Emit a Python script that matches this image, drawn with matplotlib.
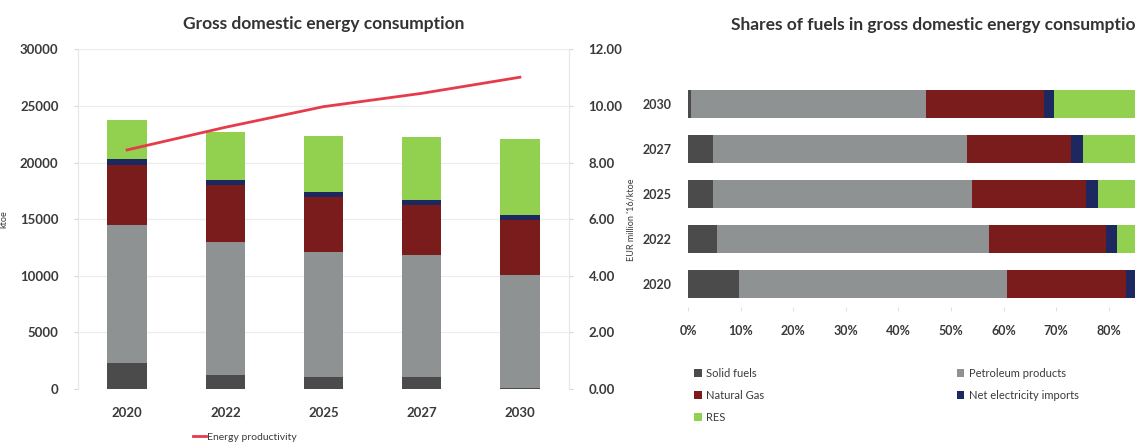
import matplotlib.pyplot as plt
import numpy as np
from matplotlib.patches import Patch
from matplotlib.lines import Line2D

plt.rcParams['font.family'] = ['Lato', 'DejaVu Sans']

# gross domestic energy consumption by fuel, ktoe
years = ['2020', '2022', '2025', '2027', '2030']
solid_fuels = [2300, 1250, 1050, 1050, 120]
petroleum = [12150, 11750, 11050, 10750, 9910]
natural_gas = [5350, 5050, 4850, 4420, 4930]
net_electricity = [500, 450, 500, 500, 450]
res = [3500, 4200, 4950, 5550, 6720]

# EUR million '16 / ktoe
energy_productivity = [8.45, 9.25, 9.98, 10.45, 11.02]

fuel_names = ['Solid fuels', 'Petroleum products', 'Natural Gas',
              'Net electricity imports', 'RES']
fuel_colors = ['#4b4b4b', '#8f9292', '#7b1c1c', '#1d2760', '#92d050']
fuels = [solid_fuels, petroleum, natural_gas, net_electricity, res]

W, H = 1135, 444
fig = plt.figure(figsize=(W / 100, H / 100), dpi=100)
fig.patch.set_facecolor('white')

def rect(x0, x1, y0, y1):
    # pixel box -> figure fraction
    return [x0 / W, 1 - y1 / H, (x1 - x0) / W, (y1 - y0) / H]

txt = '#3a3a3a'

# ---- left: stacked columns + productivity line ----
ax = fig.add_axes(rect(78, 569, 49.5, 389))
x = np.arange(len(years))
bottom = np.zeros(len(years))
for vals, col in zip(fuels, fuel_colors):
    ax.bar(x, vals, 0.4, bottom=bottom, color=col, zorder=2)
    bottom += np.array(vals)

ax.set_xlim(-0.5, 4.5)
ax.set_ylim(0, 30000)
ax.set_yticks(range(0, 30001, 5000))
ax.set_xticks(x)
ax.set_xticklabels(years)
ax.grid(axis='y', color='#ececec', linewidth=0.8, zorder=0)
for s in ['top', 'right', 'bottom']:
    ax.spines[s].set_visible(False)
ax.spines['left'].set_color('#e6e6e6')
ax.tick_params(axis='y', length=3, color='#d8d8d8', pad=11,
               labelsize=9.5, labelcolor=txt)
ax.tick_params(axis='x', length=0, pad=13, labelsize=9.5, labelcolor=txt)
for lbl in ax.get_xticklabels() + ax.get_yticklabels():
    lbl.set_fontweight('bold')
ax.set_ylabel('ktoe', fontsize=6.5, color=txt, labelpad=8)
ax.set_title('Gross domestic energy consumption', fontsize=12.5,
             fontweight='bold', color='#333333', pad=15)

ax2 = ax.twinx()
line, = ax2.plot(x, energy_productivity, color='#e63b4a', linewidth=2,
                 zorder=3)
ax2.set_ylim(0, 12)
ax2.set_yticks(np.arange(0, 12.1, 2))
ax2.set_yticklabels(['%.2f' % v for v in np.arange(0, 12.1, 2)])
for s in ['top', 'left', 'bottom']:
    ax2.spines[s].set_visible(False)
ax2.spines['right'].set_color('#e6e6e6')
ax2.tick_params(axis='y', length=3, color='#d8d8d8', pad=11,
                labelsize=9.5, labelcolor=txt)
for lbl in ax2.get_yticklabels():
    lbl.set_fontweight('bold')
ax2.set_ylabel("EUR million '16/ktoe", fontsize=6.5, color=txt, labelpad=3)

fig.legend(handles=[Line2D([], [], color='#e63b4a', linewidth=2)],
           labels=['Energy productivity'], loc='center',
           bbox_to_anchor=(245 / W, 1 - 437 / H), frameon=False,
           fontsize=7.5, handlelength=1.3, handletextpad=0.1,
           labelcolor=txt)

# ---- right: shares of fuels (panel runs past the right edge) ----
axr = fig.add_axes(rect(688, 1214, 81.5, 306.5))
totals = np.sum(fuels, axis=0)
left = np.zeros(len(years))
for vals, col in zip(fuels, fuel_colors):
    share = np.array(vals) / totals * 100
    axr.barh(x, share, 0.62, left=left, color=col, zorder=2)
    left += share

axr.set_xlim(0, 100)
axr.set_ylim(-0.5, 4.5)
axr.set_yticks(x)
axr.set_yticklabels(years)
pct = range(0, 81, 10)
axr.set_xticks(pct)
axr.set_xticklabels(['%d%%' % v for v in pct])
for s in axr.spines.values():
    s.set_visible(False)
axr.tick_params(axis='y', length=0, pad=12, labelsize=9, labelcolor=txt)
axr.tick_params(axis='x', length=3, color='#e0e0e0', pad=10,
                labelsize=9, labelcolor=txt)
for lbl in axr.get_xticklabels() + axr.get_yticklabels():
    lbl.set_fontweight('bold')
fig.text(938 / W, 1 - 25 / H,
         'Shares of fuels in gross domestic energy consumption',
         ha='center', va='center', fontsize=12.5, fontweight='bold',
         color='#333333')

# legend laid out row by row: two columns
order = [0, 2, 4, 1, 3]
handles = [Patch(facecolor=fuel_colors[i]) for i in order]
labels = [fuel_names[i] for i in order]
fig.legend(handles=handles, labels=labels, loc='upper left',
           bbox_to_anchor=(684 / W, 1 - 358 / H), ncol=2, frameon=False,
           fontsize=8, handlelength=0.7, handleheight=0.7,
           handletextpad=0.4, labelspacing=1.0, columnspacing=17.3,
           labelcolor=txt)

fig.savefig('out.png', dpi=100, facecolor='white')
